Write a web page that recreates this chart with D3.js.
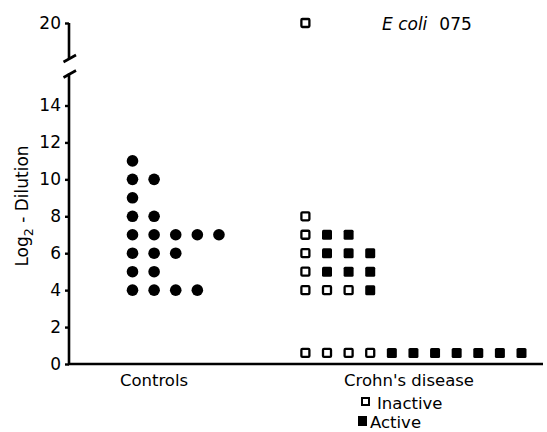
<!DOCTYPE html>
<html>
<head>
<meta charset="utf-8">
<script src="https://cdn.jsdelivr.net/npm/d3@7"></script>
<style>
  body { margin: 0; background: #fff; }
  svg { display: block; font-family: "DejaVu Sans", sans-serif; }
</style>
</head>
<body>
<script>
(function () {

  // controls: one row of dots per titre value
  var controlValues = [11, 10, 9, 8, 7, 6, 5, 4];
  var controlCounts = [1, 2, 1, 2, 5, 3, 2, 4];

  // crohn's disease: per row, inactive (open) first then active (filled)
  var crohnValues   = [20, 8, 7, 6, 5, 4, 0.6];
  var crohnInactive = [1, 1, 1, 1, 1, 3, 4];
  var crohnActive   = [0, 0, 2, 3, 3, 1, 7];

  var yTicks = [0, 2, 4, 6, 8, 10, 12, 14, 20];
  var groupNames = ["Controls", "Crohn's disease"];
  var groupSlot = [0, 8];

  var w = 547, h = 432;

  var svg = d3.select("body").append("svg")
      .attr("width", w)
      .attr("height", h);

  var axisX = 69;

  // broken axis: 0-14 below the break, 20 above it
  var y = d3.scaleLinear()
      .domain([0, 14, 20])
      .range([364, 105.5, 23]);

  var x = d3.scaleLinear()
      .domain([0, 18])
      .range([132.5, 521.5]);

  // axis lines drawn by hand because of the break
  var ax = svg.append("g")
      .attr("fill", "none")
      .attr("stroke", "#000")
      .attr("stroke-width", 2.6);

  ax.append("path")
      .attr("d", "M" + axisX + "," + y(20) + "V58");
  ax.append("path")
      .attr("d", "M63.5,62L76,55");
  ax.append("path")
      .attr("d", "M63.5,77.5L76,70.5");
  ax.append("path")
      .attr("d", "M" + axisX + ",73.5V" + y(0) + "H543");

  var yAxis = svg.append("g")
      .attr("transform", "translate(" + axisX + ",0)")
      .call(d3.axisLeft(y).tickValues(yTicks).tickSize(4).tickPadding(4));

  yAxis.select(".domain").remove();
  yAxis.selectAll(".tick line")
      .attr("stroke", "#000")
      .attr("stroke-width", 2.4);
  yAxis.selectAll(".tick text")
      .attr("fill", "#000")
      .style("font-family", "DejaVu Sans, sans-serif")
      .style("font-size", "17px");

  // y label
  var yl = svg.append("text")
      .attr("transform", "translate(28,206) rotate(-90)")
      .attr("text-anchor", "middle")
      .style("font-size", "17px");
  yl.append("tspan").text("Log");
  yl.append("tspan").attr("dy", 5).style("font-size", "12.5px").text("2");
  yl.append("tspan").attr("dy", -5).text("  -  Dilution");

  // controls dots
  var dots = [];
  controlValues.forEach(function (v, i) {
    for (var k = 0; k < controlCounts[i]; k++) {
      dots.push({ v: v, slot: groupSlot[0] + k });
    }
  });

  svg.append("g").selectAll("circle")
      .data(dots)
      .enter().append("circle")
      .attr("cx", function (d) { return x(d.slot); })
      .attr("cy", function (d) { return y(d.v); })
      .attr("r", 5.8)
      .attr("fill", "#000");

  // crohn's squares
  var squares = [];
  crohnValues.forEach(function (v, i) {
    var k = 0, j;
    for (j = 0; j < crohnInactive[i]; j++) {
      squares.push({ v: v, slot: groupSlot[1] + k++, active: false });
    }
    for (j = 0; j < crohnActive[i]; j++) {
      squares.push({ v: v, slot: groupSlot[1] + k++, active: true });
    }
  });

  svg.append("g").selectAll("rect")
      .data(squares)
      .enter().append("rect")
      .attr("x", function (d) { return x(d.slot) - (d.active ? 5 : 4); })
      .attr("y", function (d) { return y(d.v) - (d.active ? 5 : 4); })
      .attr("width", function (d) { return d.active ? 10 : 8; })
      .attr("height", function (d) { return d.active ? 10 : 8; })
      .attr("rx", function (d) { return d.active ? 1.5 : 1; })
      .attr("fill", function (d) { return d.active ? "#000" : "#fff"; })
      .attr("stroke", "#000")
      .attr("stroke-width", function (d) { return d.active ? 0 : 2.3; });

  // group labels
  svg.append("g").selectAll("text")
      .data(groupNames)
      .enter().append("text")
      .attr("x", function (d, i) { return i === 0 ? 154 : 409; })
      .attr("y", 386)
      .attr("text-anchor", "middle")
      .style("font-size", "16.5px")
      .text(function (d) { return d; });

  // title
  var t = svg.append("text")
      .attr("x", 382)
      .attr("y", 30)
      .style("font-size", "17px");
  t.append("tspan").style("font-style", "italic").text("E coli");
  t.append("tspan").attr("dx", 12).text("075");

  // legend
  var legend = [
    { label: "Inactive", active: false, y: 402 },
    { label: "Active", active: true, y: 421 }
  ];
  var lg = svg.append("g").selectAll("g")
      .data(legend)
      .enter().append("g");

  lg.append("rect")
      .attr("x", function (d) { return d.active ? 358 : 362; })
      .attr("y", function (d) { return d.y - (d.active ? 5 : 4); })
      .attr("width", function (d) { return d.active ? 9 : 7; })
      .attr("height", function (d) { return d.active ? 10 : 7; })
      .attr("fill", function (d) { return d.active ? "#000" : "#fff"; })
      .attr("stroke", "#000")
      .attr("stroke-width", function (d) { return d.active ? 0 : 2; });

  lg.append("text")
      .attr("x", function (d) { return d.active ? 370 : 377; })
      .attr("y", function (d) { return d.y + 7; })
      .style("font-size", "16.5px")
      .text(function (d) { return d.label; });

})();
</script>
</body>
</html>
